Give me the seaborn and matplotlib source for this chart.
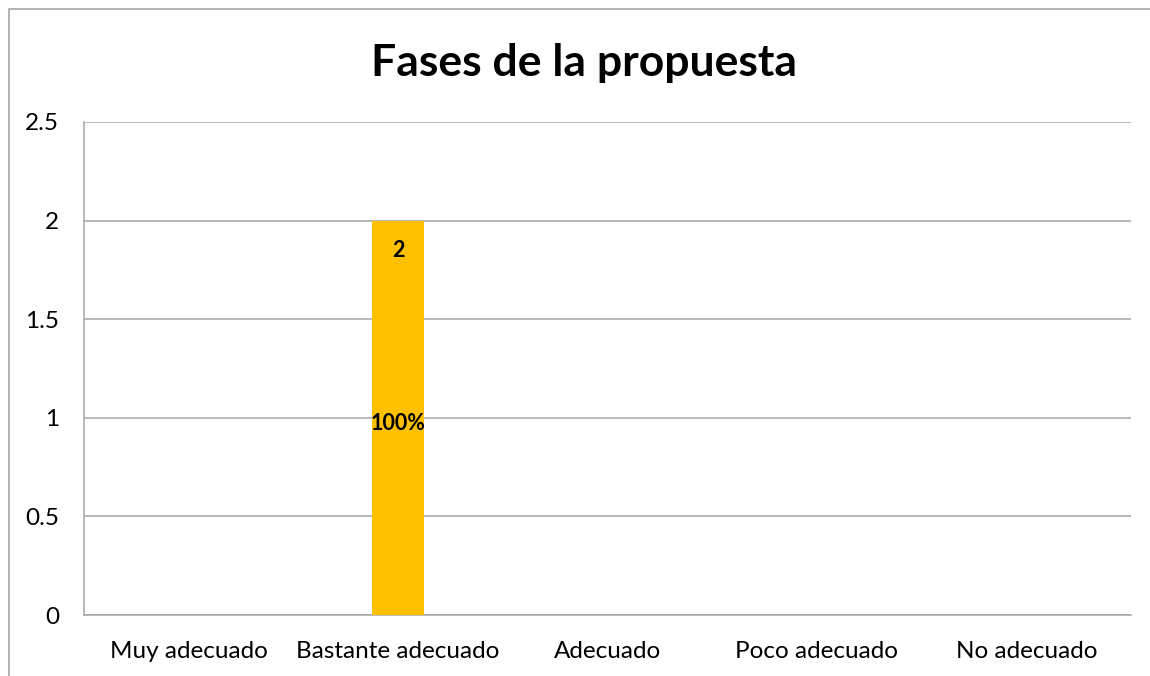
import matplotlib
matplotlib.use("Agg")
import matplotlib.pyplot as plt
import seaborn as sns
import pandas as pd
from matplotlib.patches import Rectangle

categorias = ["Muy adecuado", "Bastante adecuado", "Adecuado", "Poco adecuado", "No adecuado"]
valores = [0, 2, 0, 0, 0]
porcentajes = ["", "100%", "", "", ""]
titulo = "Fases de la propuesta"

sns.set_theme(style="white")
plt.rcParams["font.family"] = ["Lato", "DejaVu Sans"]

df = pd.DataFrame({"Categoria": categorias, "Valor": valores})

fig = plt.figure(figsize=(11.5, 6.76), dpi=100)
ax = fig.add_axes([84 / 1150, 1 - 615 / 676, (1131 - 84) / 1150, (615 - 122) / 676])

sns.barplot(data=df, x="Categoria", y="Valor", color="#FFC000", saturation=1,
            width=0.25, ax=ax, zorder=3, linewidth=0, edgecolor="none")

ax.set_ylim(0, 2.5)
ax.set_yticks([0, 0.5, 1, 1.5, 2, 2.5])
ax.set_yticklabels(["0", "0.5", "1", "1.5", "2", "2.5"])
ax.set_xlim(-0.5, len(categorias) - 0.5)
ax.set_xlabel("")
ax.set_ylabel("")
ax.yaxis.grid(True, color="#A6A6A6", linewidth=1.1)
ax.set_axisbelow(True)
ax.tick_params(axis="both", labelsize=17.5, colors="black", length=0)
ax.tick_params(axis="x", pad=19)
ax.tick_params(axis="y", pad=18)
for s in ["top", "right"]:
    ax.spines[s].set_visible(False)
for s in ["left", "bottom"]:
    ax.spines[s].set_color("#A6A6A6")
    ax.spines[s].set_linewidth(1.1)

# etiquetas de datos
for i, (v, p) in enumerate(zip(valores, porcentajes)):
    if v > 0:
        ax.text(i, v - 0.15, str(v), ha="center", va="center", fontsize=15.5,
                fontweight="bold", color="black", zorder=4)
        ax.text(i, v / 2 - 0.03, p, ha="center", va="center", fontsize=15.5,
                fontweight="bold", color="black", zorder=4)

fig.text(584 / 1150, 1 - 63 / 676, titulo, ha="center", va="center", fontsize=32,
         fontweight="bold", color="black")

# marco del grafico
fig.patches.append(Rectangle((9 / 1150, -0.1), 1.2, 1 - 9 / 676 + 0.1,
                             transform=fig.transFigure, fill=False,
                             edgecolor="#A6A6A6", linewidth=1.2))

fig.savefig("out.png", dpi=100, facecolor="white")
